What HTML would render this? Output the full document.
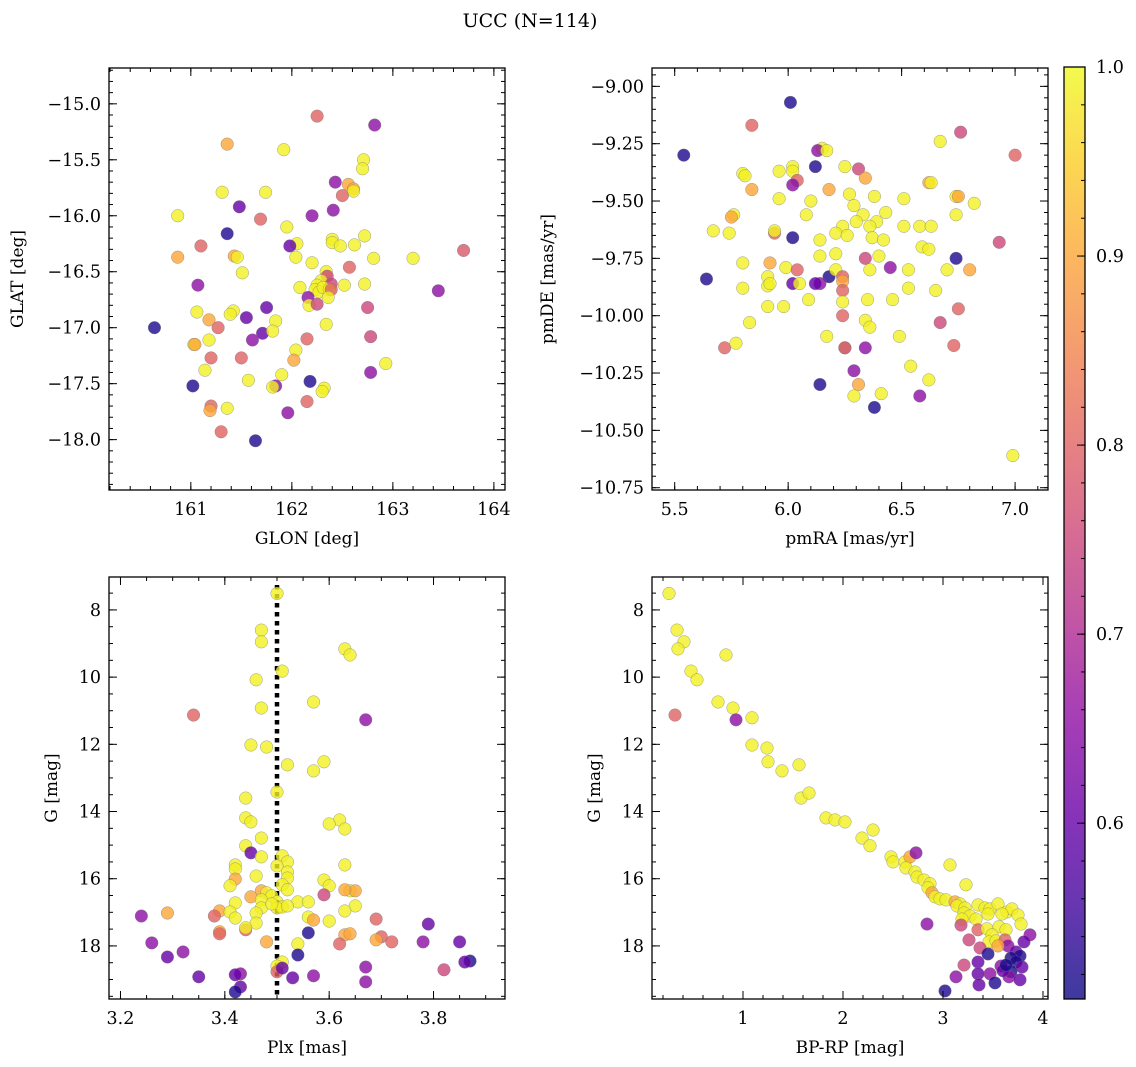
<!DOCTYPE html>
<html><head><meta charset="utf-8"><style>
body{margin:0;background:#fff}
svg{display:block;font-family:"DejaVu Serif","Liberation Serif",serif}
</style></head><body>
<svg id="fig" width="1136" height="1067" viewBox="0 0 1136 1067" xmlns="http://www.w3.org/2000/svg">
<text x="530" y="27" text-anchor="middle" font-size="19">UCC (N=114)</text>
<defs></defs>
</svg>
<script>
// ---- Panel 1: GLON vs GLAT
const glon=[162.25,162.82,161.36,161.92,162.71,162.70,162.43,162.56,162.61,162.61,162.50,161.74,161.31,162.41,161.48,161.69,160.87,162.20,161.95,161.36,162.72,162.40,162.40,162.05,161.10,161.98,162.48,162.62,161.43,161.46,160.87,162.04,162.20,163.20,162.81,163.70,161.51,162.57,162.34,162.35,162.29,162.25,162.39,163.45,161.07,162.08,162.23,162.27,162.31,162.37,162.72,162.52,162.39,162.36,162.16,162.17,162.25,161.75,161.06,161.42,161.39,161.55,162.75,162.34,161.18,161.84,162.78,160.64,161.27,161.71,161.81,161.18,161.03,161.61,162.15,162.04,161.20,161.50,161.04,162.02,162.93,161.14,162.78,161.57,161.90,161.84,161.81,161.02,162.18,162.32,162.30,162.15,161.20,161.19,161.36,161.96,161.30,161.64];
const glat=[-15.11,-15.19,-15.36,-15.41,-15.50,-15.58,-15.70,-15.72,-15.76,-15.78,-15.82,-15.79,-15.79,-15.95,-15.92,-16.03,-16.00,-16.00,-16.10,-16.16,-16.18,-16.21,-16.24,-16.25,-16.27,-16.27,-16.27,-16.26,-16.36,-16.37,-16.37,-16.37,-16.42,-16.38,-16.38,-16.31,-16.51,-16.46,-16.50,-16.54,-16.58,-16.62,-16.61,-16.67,-16.62,-16.64,-16.66,-16.68,-16.64,-16.66,-16.61,-16.62,-16.66,-16.73,-16.73,-16.80,-16.79,-16.82,-16.86,-16.85,-16.88,-16.91,-16.82,-16.97,-16.93,-16.94,-17.08,-17.00,-17.00,-17.05,-17.03,-17.11,-17.15,-17.11,-17.10,-17.20,-17.27,-17.27,-17.15,-17.29,-17.32,-17.38,-17.40,-17.47,-17.42,-17.52,-17.53,-17.52,-17.48,-17.54,-17.57,-17.66,-17.70,-17.74,-17.72,-17.76,-17.93,-18.01];
const prob1=[.8,.65,.9,.99,.99,.99,.65,.9,.9,.99,.8,.99,.99,.65,.6,.8,.99,.65,.99,.52,.99,.99,.99,.99,.8,.6,.99,.99,.9,.99,.9,.99,.99,.99,.99,.78,.99,.8,.99,.75,.99,.99,.75,.65,.65,.99,.99,.99,.99,.99,.99,.99,.8,.99,.65,.99,.75,.6,.99,.99,.99,.6,.75,.99,.9,.99,.75,.52,.8,.6,.99,.99,.99,.65,.8,.99,.8,.8,.9,.9,.99,.99,.65,.99,.99,.65,.99,.52,.52,.99,.99,.8,.8,.9,.99,.65,.8,.52];
// ---- Panel 2: pmRA vs pmDE
const pmra=[6.01,5.84,5.54,7.00,6.76,6.67,6.15,6.13,6.17,6.31,6.34,6.62,6.63,5.80,5.81,5.96,6.02,6.02,6.12,6.25,6.04,6.02,6.18,6.27,6.38,6.74,6.75,5.84,5.96,6.51,6.10,6.82,6.74,6.29,6.33,6.08,5.76,5.75,6.43,6.30,6.24,6.39,6.36,6.21,6.26,6.58,6.63,6.51,6.02,6.14,6.37,6.42,5.94,5.94,5.67,5.74,6.93,6.59,6.62,6.74,6.40,6.21,6.34,6.14,5.64,5.92,5.80,5.99,6.04,6.18,6.21,6.36,6.24,6.53,6.70,6.80,6.45,6.24,6.14,6.12,6.02,5.91,5.91,5.92,5.80,6.05,6.24,6.09,6.65,6.53,6.46,6.35,5.83,5.91,5.98,6.24,6.75,6.34,6.36,6.24,6.67,6.49,6.17,6.25,6.34,6.25,5.72,5.77,6.73,6.54,6.29,6.31,6.41,6.58,6.29,6.62,6.38,6.14,6.99];
const pmde=[-9.07,-9.17,-9.30,-9.30,-9.20,-9.24,-9.27,-9.28,-9.28,-9.36,-9.40,-9.42,-9.42,-9.38,-9.39,-9.37,-9.35,-9.37,-9.35,-9.35,-9.41,-9.43,-9.45,-9.47,-9.48,-9.48,-9.48,-9.45,-9.49,-9.49,-9.50,-9.51,-9.56,-9.52,-9.56,-9.56,-9.56,-9.57,-9.55,-9.59,-9.61,-9.59,-9.61,-9.64,-9.65,-9.61,-9.61,-9.61,-9.66,-9.67,-9.66,-9.67,-9.64,-9.63,-9.63,-9.64,-9.68,-9.70,-9.71,-9.75,-9.74,-9.73,-9.75,-9.74,-9.84,-9.77,-9.77,-9.79,-9.80,-9.83,-9.80,-9.80,-9.83,-9.80,-9.80,-9.80,-9.79,-9.85,-9.86,-9.86,-9.86,-9.83,-9.87,-9.86,-9.88,-9.86,-9.89,-9.93,-9.89,-9.88,-9.93,-9.93,-10.03,-9.96,-9.96,-9.94,-9.97,-10.02,-10.05,-10.00,-10.03,-10.09,-10.09,-10.14,-10.14,-10.14,-10.14,-10.12,-10.13,-10.22,-10.24,-10.30,-10.34,-10.35,-10.35,-10.28,-10.40,-10.30,-10.61];
const prob2=[.52,.8,.52,.8,.75,.99,.99,.65,.99,.75,.9,.9,.99,.99,.99,.99,.99,.99,.52,.99,.8,.65,.9,.99,.99,.99,.9,.9,.99,.99,.99,.99,.99,.99,.99,.99,.99,.9,.99,.99,.99,.99,.99,.99,.99,.99,.99,.99,.52,.99,.99,.99,.8,.99,.99,.99,.75,.99,.99,.52,.99,.99,.75,.99,.52,.9,.99,.99,.8,.52,.99,.99,.8,.99,.99,.9,.65,.9,.65,.6,.6,.99,.99,.99,.99,.99,.8,.99,.99,.99,.99,.99,.99,.99,.99,.99,.8,.99,.99,.8,.75,.99,.99,.99,.65,.75,.8,.99,.8,.99,.65,.9,.99,.65,.99,.99,.52,.52,.99];
// ---- Panel 3: Plx vs G
const plx=[3.50,3.47,3.47,3.63,3.64,3.51,3.46,3.57,3.47,3.34,3.67,3.52,3.45,3.48,3.59,3.57,3.44,3.50,3.44,3.45,3.62,3.60,3.63,3.47,3.44,3.45,3.47,3.51,3.52,3.42,3.42,3.63,3.50,3.52,3.52,3.42,3.46,3.59,3.60,3.41,3.51,3.52,3.47,3.48,3.64,3.65,3.59,3.63,3.49,3.54,3.56,3.45,3.47,3.50,3.42,3.51,3.50,3.52,3.47,3.49,3.65,3.63,3.39,3.41,3.46,3.29,3.24,3.69,3.38,3.42,3.56,3.57,3.60,3.46,3.44,3.44,3.39,3.39,3.63,3.64,3.56,3.70,3.69,3.48,3.54,3.62,3.26,3.72,3.78,3.85,3.79,3.32,3.29,3.54,3.51,3.87,3.86,3.67,3.82,3.50,3.50,3.43,3.35,3.42,3.53,3.57,3.67,3.43,3.42,3.51];
const gmag3=[7.51,8.60,8.95,9.16,9.34,9.82,10.08,10.74,10.92,11.13,11.27,12.61,12.02,12.08,12.52,12.79,13.60,13.42,14.19,14.31,14.25,14.37,14.52,14.79,15.02,15.23,15.35,15.32,15.50,15.59,15.71,15.59,15.62,15.80,15.98,16.01,15.92,16.04,16.21,16.21,16.18,16.33,16.36,16.42,16.36,16.36,16.48,16.33,16.51,16.69,16.69,16.54,16.63,16.69,16.72,16.84,16.87,16.81,16.87,16.75,16.81,16.96,16.96,16.99,17.02,17.02,17.11,17.20,17.11,17.17,17.14,17.23,17.26,17.32,17.52,17.46,17.58,17.64,17.67,17.64,17.61,17.73,17.82,17.88,17.94,17.94,17.91,17.88,17.88,17.88,17.35,18.18,18.33,18.27,18.48,18.45,18.48,18.63,18.71,18.60,18.77,18.83,18.92,18.86,18.95,18.89,19.07,19.22,19.37,18.66];
const prob3=[.99,.99,.99,.99,.99,.99,.99,.99,.99,.8,.65,.99,.99,.99,.99,.99,.99,.99,.99,.99,.99,.99,.99,.99,.99,.6,.99,.99,.99,.99,.99,.99,.99,.99,.99,.9,.99,.99,.99,.99,.99,.99,.9,.99,.99,.9,.75,.9,.99,.99,.99,.9,.99,.99,.99,.99,.99,.99,.99,.99,.99,.99,.9,.99,.99,.9,.65,.8,.8,.99,.99,.9,.99,.99,.8,.99,.9,.8,.9,.9,.52,.8,.9,.9,.99,.8,.65,.8,.65,.6,.6,.65,.6,.52,.99,.52,.6,.65,.75,.99,.8,.65,.6,.6,.6,.65,.65,.6,.52,.6];
const plxRef=3.50;
// ---- Panel 4: BP-RP vs G
const bprp=[0.26,0.34,0.41,0.35,0.83,0.48,0.54,0.32,0.75,0.90,0.93,1.09,1.09,1.24,1.25,1.39,1.56,1.58,1.66,1.83,1.92,2.02,2.30,2.19,2.27,2.48,2.50,2.62,2.67,2.73,2.63,2.72,3.07,2.74,2.81,2.87,3.23,2.85,2.89,2.92,2.97,3.03,3.12,3.17,3.14,3.22,3.35,3.42,3.47,3.55,3.64,3.69,3.21,3.27,3.19,3.33,3.45,3.59,3.75,3.18,2.84,3.78,3.35,3.44,3.56,3.87,3.63,3.49,3.26,3.46,3.53,3.62,3.81,3.65,3.37,3.55,3.45,3.73,3.77,3.68,3.35,3.58,3.73,3.79,3.68,3.47,3.35,3.66,3.77,3.13,3.21,3.60,3.52,3.36,3.02,3.63];
const gmag4=[7.51,8.60,8.95,9.16,9.34,9.82,10.08,11.13,10.74,10.92,11.27,11.21,12.02,12.11,12.52,12.79,12.61,13.60,13.45,14.19,14.25,14.31,14.55,14.79,15.02,15.35,15.50,15.50,15.35,15.23,15.68,15.80,15.59,15.95,16.04,16.15,16.18,16.27,16.42,16.54,16.60,16.63,16.69,16.75,16.81,16.87,16.78,16.87,16.90,16.75,16.99,16.90,17.02,17.11,17.20,17.20,17.05,17.05,17.08,17.38,17.35,17.35,17.52,17.49,17.43,17.67,17.52,17.67,17.82,17.88,17.85,17.82,17.88,18.00,18.06,18.00,18.24,18.18,18.30,18.36,18.48,18.60,18.48,18.63,18.77,18.83,18.83,18.92,19.01,18.92,18.57,18.74,19.10,19.16,19.34,18.57];
const prob4=[.99,.99,.99,.99,.99,.99,.99,.8,.99,.99,.65,.99,.99,.99,.99,.99,.99,.99,.99,.99,.99,.99,.99,.99,.99,.99,.99,.99,.9,.65,.99,.99,.99,.99,.99,.99,.99,.99,.9,.99,.99,.99,.9,.99,.99,.99,.99,.99,.99,.99,.99,.99,.99,.99,.99,.99,.99,.99,.99,.75,.65,.99,.8,.99,.99,.65,.99,.99,.75,.99,.99,.8,.6,.65,.75,.9,.52,.6,.52,.52,.6,.65,.52,.6,.52,.65,.6,.65,.6,.65,.75,.6,.52,.6,.52,.52];
// ---- Colorbar
const cbMin=0.507, cbMax=1.0;
const cbTicks=[0.6,0.7,0.8,0.9,1.0];

const NS='http://www.w3.org/2000/svg';
const svg=document.getElementById('fig');
function mk(tag,attrs,parent){const e=document.createElementNS(NS,tag);for(const k in attrs)e.setAttribute(k,attrs[k]);(parent||svg).appendChild(e);return e;}
const stops=[[0,[13,8,135]],[.1,[65,4,157]],[.2,[106,0,168]],[.3,[143,13,164]],[.4,[177,42,144]],[.5,[204,71,120]],[.6,[225,100,98]],[.7,[242,132,75]],[.8,[252,166,54]],[.9,[252,206,37]],[1,[240,249,33]]];
function plasma(t){t=Math.max(0,Math.min(1,t));for(let i=1;i<stops.length;i++){if(t<=stops[i][0]){const a=stops[i-1],b=stops[i],f=(t-a[0])/(b[0]-a[0]);const c=a[1].map((v,j)=>Math.round(v+(b[1][j]-v)*f));return `rgb(${c[0]},${c[1]},${c[2]})`;}}return 'rgb(240,249,33)';}
function fmt(v,d){return (v<0?'\u2212':'')+Math.abs(v).toFixed(d);}
const TF=17.5, LF=17;
function panel(o){
  const g=mk('g',{});
  
  
  const L=o.box[0],T=o.box[1],R=o.box[2],B=o.box[3];
  const sx=v=>L+(v-o.xd[0])/(o.xd[1]-o.xd[0])*(R-L);
  const sy=o.yinv?(v=>T+(v-o.yd[0])/(o.yd[1]-o.yd[0])*(B-T)):(v=>B-(v-o.yd[0])/(o.yd[1]-o.yd[0])*(B-T));
  if(o.vline!==undefined){const l=mk('line',{x1:sx(o.vline),x2:sx(o.vline),y1:T+8,y2:B,stroke:'#000','stroke-width':4.5,'stroke-dasharray':'4.5,4.5'},g);}
  const pg=mk('g',{},g);
  
  
  for(let i=0;i<o.x.length;i++){
    const c=mk('circle',{cx:sx(o.x[i]),cy:sy(o.y[i]),r:6.3,fill:plasma((o.p[i]-cbMin)/(cbMax-cbMin)),'fill-opacity':0.8,stroke:'#777','stroke-width':0.5,'stroke-opacity':0.7},pg);
    
    
  }
  const tg=mk('g',{stroke:'#000','stroke-width':1},g);
  function ticks(d,step){const out=[];const s=Math.ceil(d[0]/step-1e-6);for(let k=s;k*step<=d[1]+1e-9;k++)out.push(+(k*step).toFixed(6));return out;}
  ticks(o.xd,o.xmin).forEach(v=>{const x=sx(v);mk('line',{x1:x,x2:x,y1:B,y2:B-4},tg);mk('line',{x1:x,x2:x,y1:T,y2:T+4},tg);});
  ticks(o.yd,o.ymin).forEach(v=>{const y=sy(v);mk('line',{x1:L,x2:L+4,y1:y,y2:y},tg);mk('line',{x1:R,x2:R-4,y1:y,y2:y},tg);});
  o.xt.forEach(v=>{const x=sx(v);mk('line',{x1:x,x2:x,y1:B,y2:B-8},tg);mk('line',{x1:x,x2:x,y1:T,y2:T+8},tg);
    const t=mk('text',{x:x,y:B+25,'text-anchor':'middle','font-size':TF},g);t.textContent=fmt(v,o.xdec);});
  o.yt.forEach(v=>{const y=sy(v);mk('line',{x1:L,x2:L+8,y1:y,y2:y},tg);mk('line',{x1:R,x2:R-8,y1:y,y2:y},tg);
    const t=mk('text',{x:L-8,y:y+6,'text-anchor':'end','font-size':TF},g);t.textContent=fmt(v,o.ydec);});
  const fr=mk('rect',{x:L,y:T,width:R-L,height:B-T,fill:'none',stroke:'#000','stroke-width':1.3},g);
  
  const xl=mk('text',{x:(L+R)/2,y:B+54,'text-anchor':'middle','font-size':LF},g);xl.textContent=o.xlabel;
  
  const ylx=o.ylx;const yc=(T+B)/2;
  const yl=mk('text',{x:ylx,y:yc,'text-anchor':'middle','font-size':LF,transform:`rotate(-90 ${ylx} ${yc})`},g);yl.textContent=o.ylabel;
  
}
panel({name:'glon-glat-panel',box:[109,68,505,490],xd:[160.19,164.11],yd:[-18.45,-14.68],x:glon,y:glat,p:prob1,xt:[161,162,163,164],xmin:0.2,xdec:0,yt:[-15,-15.5,-16,-16.5,-17,-17.5,-18],ymin:0.1,ydec:1,xlabel:'GLON [deg]',ylabel:'GLAT [deg]',ylx:23});
panel({name:'proper-motion-panel',box:[652,68,1048,490],xd:[5.40,7.145],yd:[-10.76,-8.92],x:pmra,y:pmde,p:prob2,xt:[5.5,6.0,6.5,7.0],xmin:0.1,xdec:1,yt:[-9,-9.25,-9.5,-9.75,-10,-10.25,-10.5,-10.75],ymin:0.05,ydec:2,xlabel:'pmRA [mas/yr]',ylabel:'pmDE [mas/yr]',ylx:553});
panel({name:'parallax-magnitude-panel',box:[109,577,505,999],xd:[3.178,3.937],yd:[7.02,19.58],yinv:true,x:plx,y:gmag3,p:prob3,xt:[3.2,3.4,3.6,3.8],xmin:0.05,xdec:1,yt:[8,10,12,14,16,18],ymin:0.5,ydec:0,xlabel:'Plx [mas]',ylabel:'G [mag]',ylx:57,vline:plxRef});
panel({name:'color-magnitude-panel',box:[652,577,1048,999],xd:[0.09,4.05],yd:[7.02,19.58],yinv:true,x:bprp,y:gmag4,p:prob4,xt:[1,2,3,4],xmin:0.2,xdec:0,yt:[8,10,12,14,16,18],ymin:0.5,ydec:0,xlabel:'BP-RP [mag]',ylabel:'G [mag]',ylx:600});
(function(){
  const g=mk('g',{});
  
  
  const L=1064,R=1085,T=67,B=999;
  const sy=v=>B-(v-cbMin)/(cbMax-cbMin)*(B-T);
  const sub=mk('linearGradient',{id:'cbgrad',x1:0,y1:1,x2:0,y2:0},svg.querySelector('defs'));
  for(let k=0;k<=20;k++){const t=k/20;mk('stop',{offset:t,'stop-color':plasma(t)},sub);}
  mk('rect',{x:L,y:T,width:R-L,height:B-T,fill:'url(#cbgrad)','fill-opacity':0.8},g);
  for(let k=26;k<=50;k++){const v=k*0.02;if(v<cbMin)continue;const y=sy(v);mk('line',{x1:R,x2:R-4,y1:y,y2:y,stroke:'#000'},g);}
  cbTicks.forEach(v=>{const y=sy(v);mk('line',{x1:R,x2:R-8,y1:y,y2:y,stroke:'#000'},g);
    const t=mk('text',{x:R+11,y:y+6,'font-size':TF},g);t.textContent=v.toFixed(1);});
  mk('rect',{x:L,y:T,width:R-L,height:B-T,fill:'none',stroke:'#000','stroke-width':1.3},g);
})();
</script>
</body></html>
